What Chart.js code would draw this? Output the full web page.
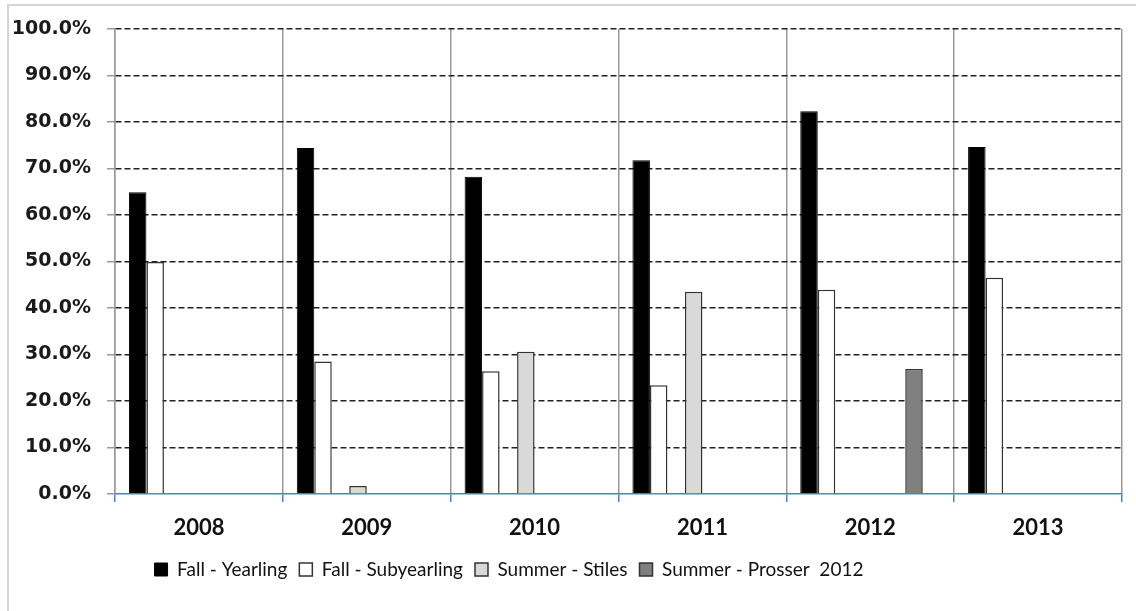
<!DOCTYPE html>
<html>
<head>
<meta charset="utf-8">
<title>Percentage by year</title>
<script src="https://cdn.jsdelivr.net/npm/chart.js@4/dist/chart.umd.min.js"></script>
<style>
  html, body { margin: 0; padding: 0; background: #ffffff; }
  #wrap { position: relative; width: 1136px; height: 611px; }
</style>
</head>
<body>
<div id="wrap">
  <canvas id="grafiek" width="1136" height="611"></canvas>
</div>
<script>
// data (percent)
const years = ['2008', '2009', '2010', '2011', '2012', '2013'];
const fallYearling = [64.9, 74.4, 68.2, 71.8, 82.3, 74.6];
const fallSubyearling = [49.9, 28.5, 26.4, 23.4, 43.9, 46.5];
const summerStiles = [null, 1.7, 30.6, 43.5, null, null];
const summerProsser = [null, null, null, null, 26.9, null];
const yTicks = [0, 10, 20, 30, 40, 50, 60, 70, 80, 90, 100];

// empty slot so the bars sit in the same places as in the original sheet
function spacer() {
  return { label: '', data: [], backgroundColor: 'transparent', borderWidth: 0 };
}

// light grey frame round the whole chart (only top and left are in view)
const frame = {
  id: 'frame',
  beforeDraw(chart) {
    const c = chart.ctx;
    c.save();
    c.strokeStyle = '#d4d4d4';
    c.lineWidth = 2;
    c.beginPath();
    c.moveTo(8, 620);
    c.lineTo(8, 5);
    c.lineTo(1140, 5);
    c.stroke();
    c.restore();
  }
};

// legend is a bit left of the centre in the original
const shiftLegend = {
  id: 'shiftLegend',
  afterLayout(chart) {
    chart.legend.left -= 52;
    chart.legend.right -= 52;
  }
};

const ctx = document.getElementById('grafiek').getContext('2d');
const chart = new Chart(ctx, {
  type: 'bar',
  data: {
    labels: years,
    datasets: [
      { label: 'Fall - Yearling', data: fallYearling, backgroundColor: '#000000', borderColor: '#000000', borderWidth: 1 },
      { label: 'Fall - Subyearling', data: fallSubyearling, backgroundColor: '#ffffff', borderColor: '#333333', borderWidth: 1.5 },
      spacer(),
      { label: 'Summer - Stiles', data: summerStiles, backgroundColor: '#d9d9d9', borderColor: '#333333', borderWidth: 1.5 },
      spacer(),
      spacer(),
      { label: 'Summer - Prosser  2012', data: summerProsser, backgroundColor: '#808080', borderColor: '#333333', borderWidth: 1.5 },
      spacer()
    ]
  },
  options: {
    responsive: false,
    animation: false,
    layout: { padding: { left: 0, right: 14, top: 29, bottom: 22 } },
    datasets: {
      bar: { categoryPercentage: 0.834, barPercentage: 1.0 }
    },
    scales: {
      x: {
        afterFit: function (scale) { scale.height = 54; },
        grid: {
          offset: true,
          color: '#999999',
          lineWidth: 1.5,
          tickColor: '#4f81bd',
          tickLength: 8
        },
        border: { color: '#4f81bd', width: 1.5 },
        ticks: {
          color: '#111111',
          padding: 13,
          font: { family: 'Lato', size: 22, weight: 'bold' }
        }
      },
      y: {
        min: 0,
        max: 100,
        afterFit: function (scale) { scale.width = 115; },
        afterBuildTicks: function (scale) {
          scale.ticks = yTicks.map(v => ({ value: v }));
        },
        grid: {
          color: c => (c.tick && c.tick.value === 0) ? 'transparent' : '#222222',
          lineWidth: 1.5,
          tickColor: '#999999',
          tickLength: 8
        },
        border: { color: '#999999', width: 1.5, dash: [6, 3] },
        ticks: {
          color: '#1a1a1a',
          padding: 16,
          font: { family: 'DejaVu Sans', size: 19, weight: 'bold' },
          callback: v => v.toFixed(1) + '%'
        }
      }
    },
    plugins: {
      tooltip: { enabled: false },
      legend: {
        position: 'bottom',
        labels: {
          boxWidth: 13,
          boxHeight: 13,
          padding: 12,
          color: '#111111',
          font: { family: 'Lato', size: 19 },
          filter: item => item.text !== ''
        }
      }
    }
  },
  plugins: [frame, shiftLegend]
});
</script>
</body>
</html>
